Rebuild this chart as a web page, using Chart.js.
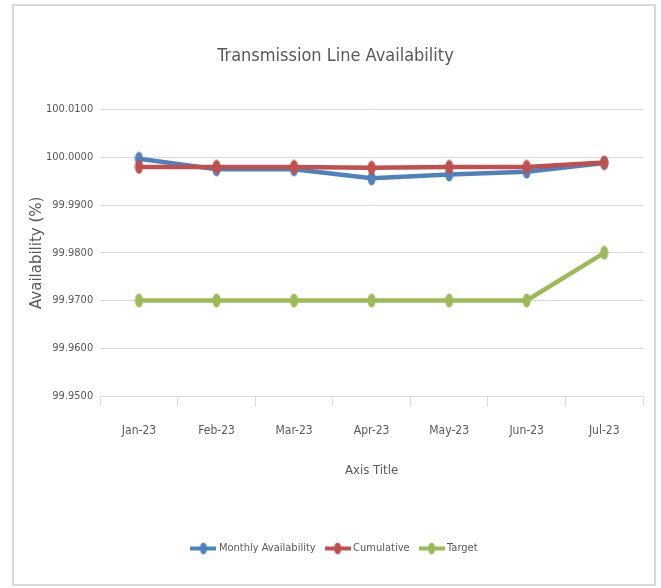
<!DOCTYPE html>
<html>
<head>
<meta charset="utf-8">
<script src="https://cdn.jsdelivr.net/npm/chart.js@4.4.0/dist/chart.umd.min.js"></script>
<style>
  html, body { margin: 0; padding: 0; background: #ffffff; }
  #wrap { width: 661px; height: 588px; }
</style>
</head>
<body>
<div id="wrap"><canvas id="c" width="661" height="588"></canvas></div>
<script>
const categories = ["Jan-23", "Feb-23", "Mar-23", "Apr-23", "May-23", "Jun-23", "Jul-23"];
const monthlyAvailability = [99.9997, 99.9975, 99.9975, 99.9956, 99.9964, 99.9970, 99.9988];
const cumulative = [99.9980, 99.9980, 99.9980, 99.9978, 99.9980, 99.9980, 99.9989];
const target = [99.9700, 99.9700, 99.9700, 99.9700, 99.9700, 99.9700, 99.9800];
const yTickMin = 99.95;
const yTickMax = 100.01;
const yTickStep = 0.01;

const narrow = "'DejaVu Sans Condensed', 'Liberation Sans', sans-serif";
const textColor = '#595959';
const gridColor = '#d9d9d9';

function markerImage(color) {
  const c = document.createElement('canvas');
  c.width = 9; c.height = 15;
  const ctx = c.getContext('2d');
  ctx.fillStyle = color;
  ctx.beginPath();
  ctx.ellipse(4.5, 7.5, 4, 7, 0, 0, Math.PI * 2);
  ctx.fill();
  return c;
}
function legendImage(color) {
  const c = document.createElement('canvas');
  c.width = 26; c.height = 13;
  const ctx = c.getContext('2d');
  ctx.strokeStyle = color;
  ctx.lineWidth = 4;
  ctx.beginPath();
  ctx.moveTo(0, 6.5); ctx.lineTo(26, 6.5);
  ctx.stroke();
  ctx.fillStyle = color;
  ctx.beginPath();
  ctx.ellipse(13, 6.5, 3.5, 6, 0, 0, Math.PI * 2);
  ctx.fill();
  return c;
}

const colors = ['#4f81bd', '#c0504d', '#9bbb59'];

const borderPlugin = {
  id: 'outerBorder',
  beforeDraw(chart) {
    const ctx = chart.ctx;
    ctx.save();
    ctx.fillStyle = '#ffffff';
    ctx.fillRect(0, 0, chart.width, chart.height);
    ctx.strokeStyle = gridColor;
    ctx.lineWidth = 2;
    ctx.strokeRect(13, 5, 642, 580);
    ctx.restore();
  }
};

const mk = [markerImage(colors[0]), markerImage(colors[1]), markerImage(colors[2])];
const lg = [legendImage(colors[0]), legendImage(colors[1]), legendImage(colors[2])];

new Chart(document.getElementById('c'), {
  type: 'line',
  data: {
    labels: categories,
    datasets: [
      { label: 'Monthly Availability', data: monthlyAvailability, borderColor: colors[0], backgroundColor: colors[0],
        borderWidth: 4.5, pointStyle: mk[0], order: 1, tension: 0 },
      { label: 'Cumulative', data: cumulative, borderColor: colors[1], backgroundColor: colors[1],
        borderWidth: 4.5, pointStyle: mk[1], order: 0, tension: 0 },
      { label: 'Target', data: target, borderColor: colors[2], backgroundColor: colors[2],
        borderWidth: 4.5, pointStyle: mk[2], order: 2, tension: 0 }
    ]
  },
  options: {
    responsive: false,
    animation: false,
    devicePixelRatio: 1,
    layout: { padding: { left: 28, right: 18, top: 0, bottom: 24 } },
    plugins: {
      tooltip: { enabled: false },
      title: {
        display: true,
        text: 'Transmission Line Availability',
        color: textColor,
        font: { family: narrow, size: 18, weight: 'normal' },
        padding: { top: 46, bottom: 42 }
      },
      legend: {
        position: 'bottom',
        labels: {
          usePointStyle: true,
          pointStyleWidth: 20,
          color: textColor,
          font: { family: narrow, size: 11 },
          padding: 12,
          boxHeight: 13,
          sort: (a, b) => a.datasetIndex - b.datasetIndex,
          generateLabels(chart) {
            const items = Chart.defaults.plugins.legend.labels.generateLabels(chart);
            items.forEach(it => { it.pointStyle = lg[it.datasetIndex]; });
            return items;
          }
        }
      }
    },
    scales: {
      x: {
        offset: true,
        grid: { offset: true, drawOnChartArea: false, drawTicks: true, tickLength: 10, color: gridColor, lineWidth: 1 },
        border: { display: true, color: gridColor, width: 1 },
        ticks: { color: textColor, font: { family: narrow, size: 12 }, padding: 18, maxRotation: 0 },
        title: { display: true, text: 'Axis Title', color: textColor, font: { family: narrow, size: 13 }, padding: { top: 6, bottom: 53 } }
      },
      y: {
        min: yTickMin,
        max: yTickMax,
        grid: { color: gridColor, drawTicks: false, lineWidth: 1 },
        border: { display: false },
        ticks: {
          stepSize: yTickStep,
          color: textColor,
          font: { family: narrow, size: 11 },
          padding: 7,
          callback: v => Number(v).toFixed(4)
        },
        title: { display: true, text: 'Availability (%)', color: textColor, font: { family: "'DejaVu Sans', Verdana, sans-serif", size: 15 }, padding: { top: 0, bottom: -7 } }
      }
    }
  },
  plugins: [borderPlugin]
});
</script>
</body>
</html>
